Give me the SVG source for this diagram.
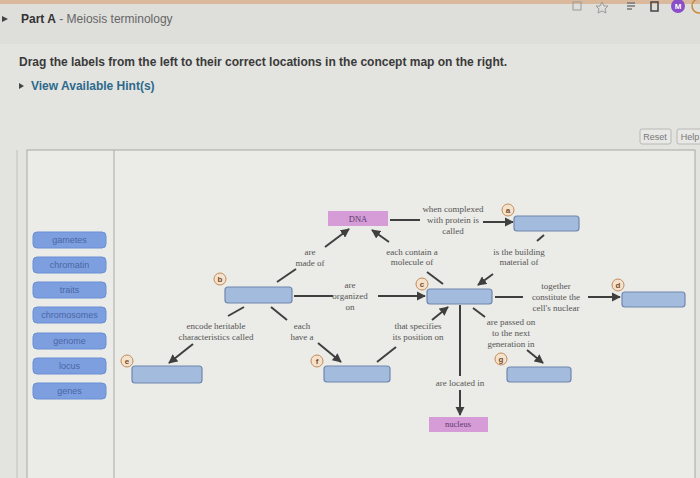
<svg xmlns="http://www.w3.org/2000/svg" width="700" height="478" viewBox="0 0 700 478">
<defs>
<marker id="ah" viewBox="0 0 10 10" refX="9" refY="5" markerWidth="4.6" markerHeight="4.6" orient="auto" markerUnits="strokeWidth">
<path d="M0,0 L10,5 L0,10 z" fill="#3f3f3f"/>
</marker>
<style>
.bg{fill:#e3e3df}
.panel{fill:#ebebe7;stroke:#a8a8a6;stroke-width:1}
.hdr{font-family:"Liberation Sans",Arial,sans-serif;font-size:12px}
.lbl{fill:#7d9fe0;stroke:#6b8fd4;stroke-width:1}
.lbltx{font-family:"Liberation Sans",Arial,sans-serif;font-size:9px;fill:#4a66a3;text-anchor:middle}
.box{fill:#a3bbdd;stroke:#6f88ad;stroke-width:1.2}
.pink{fill:#d69cd7}
.pktx{font-family:"Liberation Serif","Times New Roman",serif;font-size:8.5px;fill:#5a3a6a;text-anchor:middle}
.tx{font-family:"Liberation Serif","Times New Roman",serif;font-size:9px;fill:#555;text-anchor:middle}
.ln{stroke:#3f3f3f;stroke-width:2;fill:none}
.ar{stroke:#3f3f3f;stroke-width:2;fill:none;marker-end:url(#ah)}
.cir{fill:#f4e3cc;stroke:#c48a5c;stroke-width:1}
.cirtx{font-family:"Liberation Sans",Arial,sans-serif;font-size:8px;font-weight:bold;fill:#7a4a2a;text-anchor:middle}
.btn{fill:#e8e8e6;stroke:#b8b8b6;stroke-width:1}
.btntx{font-family:"Liberation Sans",Arial,sans-serif;font-size:9px;fill:#777;text-anchor:middle}
</style>
</defs>
<rect class="bg" x="0" y="0" width="700" height="478"/>
<rect x="0" y="0" width="700" height="4" fill="#d9b89c"/>
<rect x="0" y="4" width="700" height="40" fill="#dededa"/>
<g id="browser-icons">
<rect x="573" y="2" width="8" height="8" fill="none" stroke="#9a9a9a" stroke-width="1"/>
<path d="M602,2 l2,4 4,0 -3,3 1,4 -4,-2 -4,2 1,-4 -3,-3 4,0z" fill="none" stroke="#9a9a9a" stroke-width="1"/>
<path d="M627,3 h8 M627,6 h8 M627,9 h5" stroke="#777" stroke-width="1.3"/>
<rect x="651" y="2" width="7" height="9" fill="none" stroke="#444" stroke-width="1.5"/>
<circle cx="678" cy="6" r="7" fill="#8a4fc8"/>
<text x="678" y="9" font-family="Liberation Sans, Arial, sans-serif" font-size="8" font-weight="bold" fill="#fff" text-anchor="middle">M</text>
<circle cx="699" cy="6" r="7" fill="none" stroke="#c98a3a" stroke-width="1.5"/>
</g>
<path d="M2,16 l6,3 -6,3z" fill="#444"/>
<text class="hdr" x="21" y="23"><tspan font-weight="bold" fill="#333">Part A</tspan><tspan fill="#666"> - Meiosis terminology</tspan></text>
<text class="hdr" x="19" y="66" fill="#3a3a3a" font-weight="600" font-size="11.5">Drag the labels from the left to their correct locations in the concept map on the right.</text>
<path d="M19,83 l5,3 -5,3z" fill="#444"/>
<text class="hdr" x="31" y="90" fill="#2c6a8c" font-weight="bold" font-size="11.5">View Available Hint(s)</text>
<g id="reset"><rect class="btn" x="640" y="129" width="31" height="15" rx="2"/><text class="btntx" x="655" y="140">Reset</text></g>
<g id="help"><rect class="btn" x="677" y="129" width="30" height="15" rx="2"/><text class="btntx" x="690" y="140">Help</text></g>
<line x1="17" y1="150" x2="17" y2="478" stroke="#c0c0be" stroke-width="1"/>
<rect class="panel" x="27" y="150" width="668" height="340"/>
<line x1="114" y1="150" x2="114" y2="478" stroke="#a8a8a6" stroke-width="1"/>
<g id="labels">
<g id="lbl-gametes"><rect class="lbl" x="33" y="232" width="73" height="16" rx="4"/><text class="lbltx" x="69.5" y="243">gametes</text></g>
<g id="lbl-chromatin"><rect class="lbl" x="33" y="257" width="73" height="16" rx="4"/><text class="lbltx" x="69.5" y="268">chromatin</text></g>
<g id="lbl-traits"><rect class="lbl" x="33" y="282" width="73" height="16" rx="4"/><text class="lbltx" x="69.5" y="293">traits</text></g>
<g id="lbl-chromosomes"><rect class="lbl" x="33" y="307" width="73" height="16" rx="4"/><text class="lbltx" x="69.5" y="318">chromosomes</text></g>
<g id="lbl-genome"><rect class="lbl" x="33" y="333" width="73" height="16" rx="4"/><text class="lbltx" x="69.5" y="344">genome</text></g>
<g id="lbl-locus"><rect class="lbl" x="33" y="358" width="73" height="16" rx="4"/><text class="lbltx" x="69.5" y="369">locus</text></g>
<g id="lbl-genes"><rect class="lbl" x="33" y="383" width="73" height="16" rx="4"/><text class="lbltx" x="69.5" y="394">genes</text></g>
</g>
<g id="connectors">
<line class="ln" x1="277" y1="282" x2="296" y2="269"/>
<line class="ar" x1="325" y1="247" x2="349" y2="229"/>
<text class="tx" x="310" y="255">are</text><text class="tx" x="310" y="266">made of</text>
<line class="ln" x1="390" y1="220" x2="420" y2="220"/>
<line class="ar" x1="483" y1="222" x2="513" y2="222"/>
<text class="tx" x="453" y="212">when complexed</text><text class="tx" x="453" y="223">with protein is</text><text class="tx" x="453" y="234">called</text>
<line class="ar" x1="389" y1="242" x2="372" y2="230"/>
<line class="ln" x1="427" y1="272" x2="443" y2="284"/>
<text class="tx" x="412" y="255">each contain a</text><text class="tx" x="412" y="265">molecule of</text>
<line class="ln" x1="294" y1="296" x2="333" y2="296"/>
<line class="ar" x1="378" y1="296" x2="425" y2="296"/>
<text class="tx" x="350" y="288">are</text><text class="tx" x="350" y="299">organized</text><text class="tx" x="350" y="310">on</text>
<line class="ln" x1="544" y1="235" x2="537" y2="241"/>
<line class="ar" x1="493" y1="274" x2="478" y2="285"/>
<text class="tx" x="519" y="255">is the building</text><text class="tx" x="519" y="265">material of</text>
<line class="ln" x1="495" y1="297" x2="523" y2="297"/>
<line class="ar" x1="588" y1="297" x2="620" y2="297"/>
<text class="tx" x="556" y="289">together</text><text class="tx" x="556" y="300">constitute the</text><text class="tx" x="556" y="311">cell's nuclear</text>
<line class="ln" x1="460" y1="305" x2="460" y2="376"/>
<line class="ar" x1="460" y1="390" x2="460" y2="415"/>
<text class="tx" x="460" y="386">are located in</text>
<line class="ln" x1="473" y1="308" x2="485" y2="317"/>
<line class="ar" x1="527" y1="350" x2="543" y2="363"/>
<text class="tx" x="511" y="325">are passed on</text><text class="tx" x="511" y="336">to the next</text><text class="tx" x="511" y="347">generation in</text>
<line class="ln" x1="377" y1="362" x2="396" y2="347"/>
<line class="ar" x1="432" y1="320" x2="448" y2="307"/>
<text class="tx" x="418" y="329">that specifies</text><text class="tx" x="418" y="340">its position on</text>
<line class="ln" x1="244" y1="307" x2="228" y2="316"/>
<line class="ar" x1="193" y1="344" x2="169" y2="363"/>
<text class="tx" x="216" y="329">encode heritable</text><text class="tx" x="216" y="340">characteristics called</text>
<line class="ln" x1="271" y1="307" x2="287" y2="320"/>
<line class="ar" x1="318" y1="343" x2="341" y2="362"/>
<text class="tx" x="302" y="329">each</text><text class="tx" x="302" y="340">have a</text>
</g>
<g id="node-dna"><rect class="pink" x="328" y="211" width="60" height="15"/><text class="pktx" x="358" y="222">DNA</text></g>
<g id="node-nucleus"><rect class="pink" x="429" y="417" width="59" height="15"/><text class="pktx" x="458" y="427" font-size="7.5">nucleus</text></g>
<g id="node-a"><rect class="box" x="514" y="216" width="65" height="15" rx="3"/><circle class="cir" cx="508" cy="210" r="6"/><text class="cirtx" x="508" y="213">a</text></g>
<g id="node-b"><rect class="box" x="225" y="287" width="67" height="16" rx="3"/><circle class="cir" cx="220" cy="279" r="6"/><text class="cirtx" x="220" y="282">b</text></g>
<g id="node-c"><rect class="box" x="427" y="289" width="65" height="15" rx="3"/><circle class="cir" cx="422" cy="284" r="6"/><text class="cirtx" x="422" y="287">c</text></g>
<g id="node-d"><rect class="box" x="622" y="292" width="63" height="15" rx="3"/><circle class="cir" cx="618" cy="285" r="6"/><text class="cirtx" x="618" y="288">d</text></g>
<g id="node-e"><rect class="box" x="132" y="366" width="70" height="17" rx="3"/><circle class="cir" cx="127" cy="361" r="6"/><text class="cirtx" x="127" y="364">e</text></g>
<g id="node-f"><rect class="box" x="324" y="366" width="66" height="16" rx="3"/><circle class="cir" cx="317" cy="361" r="6"/><text class="cirtx" x="317" y="364">f</text></g>
<g id="node-g"><rect class="box" x="507" y="367" width="64" height="15" rx="3"/><circle class="cir" cx="501" cy="359" r="6"/><text class="cirtx" x="501" y="362">g</text></g>
</svg>
